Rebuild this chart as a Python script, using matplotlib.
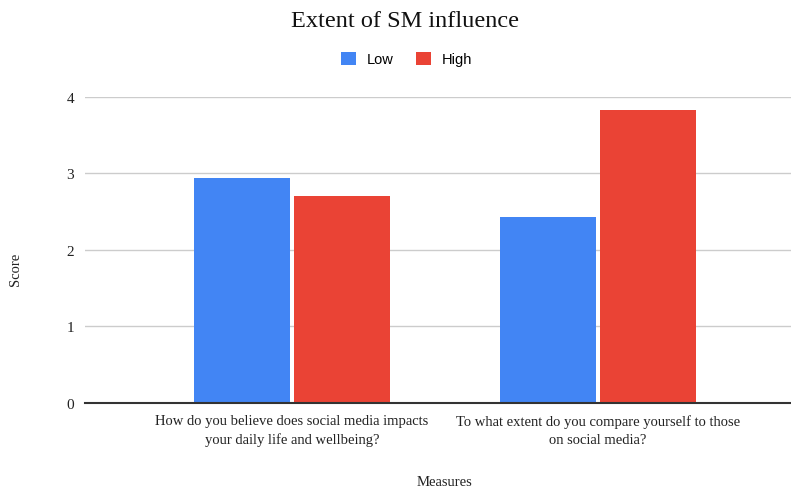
import numpy as np
import matplotlib
matplotlib.use("Agg")
import matplotlib.pyplot as plt

measures = [
    "How do you believe does social media impacts\nyour daily life and wellbeing?",
    "To what extent do you compare yourself to those\non social media?",
]
low_scores = [2.94, 2.43]
high_scores = [2.70, 3.82]

serif = "Liberation Serif"
sans = "Liberation Sans"

fig = plt.figure(figsize=(7.91, 4.89), dpi=100)
ax = fig.add_axes([0.1075, 0.1744, 0.8925, 0.626])

x = np.arange(len(measures))
width = 0.314
offset = 0.164
ax.bar(x - offset, low_scores, width, color="#4285F4", label="Low", zorder=3)
ax.bar(x + offset, high_scores, width, color="#EA4335", label="High", zorder=3)

ax.set_xlim(-0.676, 1.63)
ax.set_ylim(0, 4)
ax.set_yticks([0, 1, 2, 3, 4])
ax.set_yticklabels(["0", "1", "2", "3", "4"], fontfamily=serif, fontsize=11)
ax.set_xticks(x)
ax.set_xticklabels(measures, fontfamily=serif, fontsize=10.5, linespacing=1.5)
ax.tick_params(axis="both", length=0, colors="#222222")
ax.tick_params(axis="y", pad=8)
ax.tick_params(axis="x", pad=8)

ax.grid(axis="y", color="#cccccc", linewidth=1, zorder=0)
for s in ["top", "right", "left"]:
    ax.spines[s].set_visible(False)
ax.spines["bottom"].set_color("#333333")
ax.spines["bottom"].set_linewidth(1.5)
ax.spines["bottom"].set_zorder(4)

fig.text(0.512, 0.956, "Extent of SM influence", ha="center", va="center",
         fontfamily=serif, fontsize=17.5, color="#111111")
fig.text(0.019, 0.45, "Score", ha="center", va="center", rotation=90,
         fontfamily=serif, fontsize=10.5, color="#222222")
fig.text(0.5625, 0.0143, "Measures", ha="center", va="center",
         fontfamily=serif, fontsize=10.5, color="#222222")

fig.legend(loc="center", bbox_to_anchor=(0.514, 0.877), ncol=2, frameon=False,
           prop={"family": sans, "size": 10.5}, handlelength=1.0, handleheight=1.0,
           handletextpad=0.7, columnspacing=1.6)

fig.savefig("out.png", dpi=100)
